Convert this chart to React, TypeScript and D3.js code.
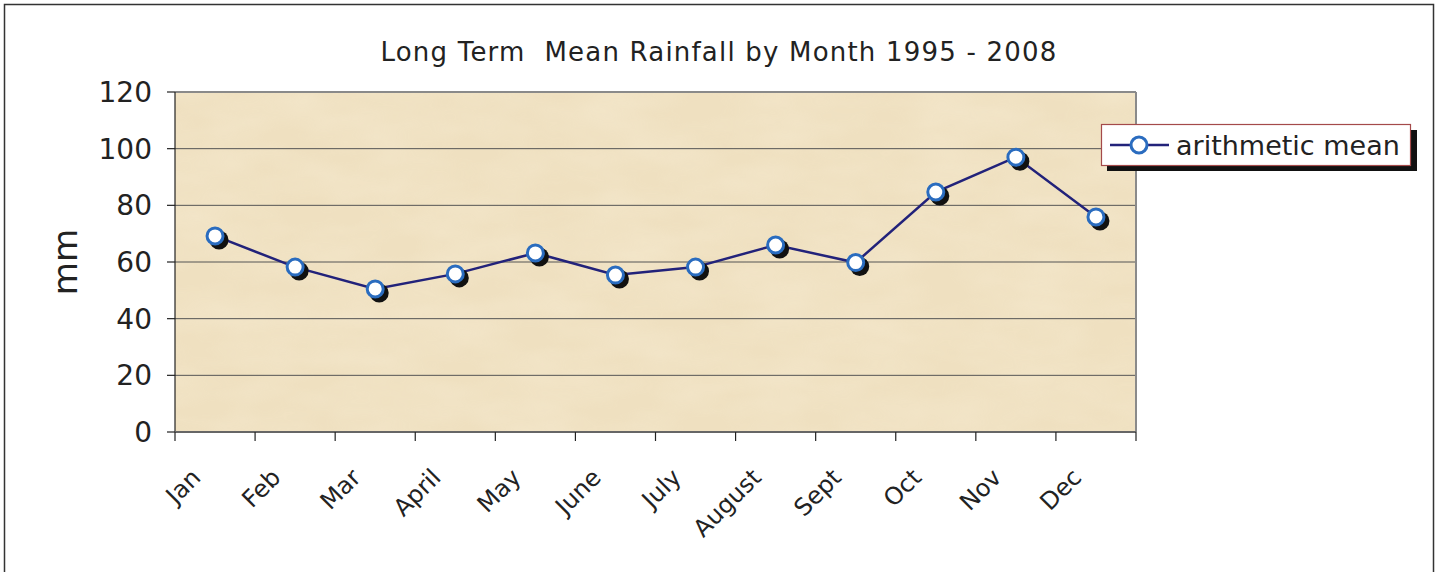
import * as d3 from "d3";
import React from "react";

const months = ["Jan", "Feb", "Mar", "April", "May", "June", "July", "August", "Sept", "Oct", "Nov", "Dec"];
const rainfall = [69.2, 58.2, 50.5, 55.8, 63.2, 55.4, 58.2, 66.0, 59.8, 84.7, 97.0, 75.9];
const yTicks = [0, 20, 40, 60, 80, 100, 120];
const title = "Long Term  Mean Rainfall by Month 1995 - 2008";
const seriesName = "arithmetic mean";
const yLabel = "mm";

const W = 1438;
const H = 572;
const plot = { left: 175, top: 92, right: 1136, bottom: 432 };
const font = "'DejaVu Sans', Verdana, sans-serif";

export default function App() {
  const x = d3.scaleBand().domain(months).range([plot.left, plot.right]);
  const y = d3.scaleLinear().domain([0, 120]).range([plot.bottom, plot.top]);
  const cx = (m: string) => (x(m) ?? 0) + x.bandwidth() / 2;

  const pts = months.map((m, i) => ({ m, v: rainfall[i] }));
  const line = d3.line<{ m: string; v: number }>().x(d => cx(d.m)).y(d => y(d.v));
  const bounds = months.map(m => x(m) ?? 0).concat([plot.right]);

  return (
    <svg width={W} height={H} style={{ position: "absolute", left: 0, top: 0, background: "#fff" }} fontFamily={font}>
      <defs>
        <filter id="paper" x="0" y="0" width="100%" height="100%">
          <feTurbulence type="fractalNoise" baseFrequency="0.012 0.03" numOctaves="3" seed="4" />
          <feColorMatrix type="matrix" values="0 0 0 0 0.95  0 0 0 0 0.87  0 0 0 0 0.70  0 0 0 0.9 -0.25" />
        </filter>
      </defs>

      {/* outer frame */}
      <rect x={4.5} y={4.5} width={1429} height={620} fill="none" stroke="#333" strokeWidth={1.5} />

      <text x={719} y={61} textAnchor="middle" fontSize={26} letterSpacing={1.2} fill="#222" style={{ whiteSpace: "pre" }}>{title}</text>

      {/* plot background */}
      <rect x={plot.left} y={plot.top} width={plot.right - plot.left} height={plot.bottom - plot.top} fill="#efe0c0" />
      <rect x={plot.left} y={plot.top} width={plot.right - plot.left} height={plot.bottom - plot.top} fill="#fff" filter="url(#paper)" opacity={0.6} />

      {/* gridlines */}
      {yTicks.filter(t => t > 0 && t < 120).map(t => (
        <line key={t} x1={plot.left} x2={plot.right} y1={y(t)} y2={y(t)} stroke="#555" strokeWidth={1} />
      ))}
      <line x1={plot.left} x2={plot.right} y1={plot.top} y2={plot.top} stroke="#8a8a8a" strokeWidth={2} />
      <line x1={plot.right} x2={plot.right} y1={plot.top} y2={plot.bottom} stroke="#8a8a8a" strokeWidth={2} />

      {/* y axis */}
      <line x1={plot.left} x2={plot.left} y1={plot.top} y2={plot.bottom} stroke="#222" strokeWidth={1.2} />
      {yTicks.map(t => (
        <g key={t}>
          <line x1={plot.left - 8} x2={plot.left} y1={y(t)} y2={y(t)} stroke="#222" strokeWidth={1.2} />
          <text x={152} y={y(t) + 10} textAnchor="end" fontSize={28} fill="#222">{t}</text>
        </g>
      ))}
      <text transform={`translate(77,${(plot.top + plot.bottom) / 2}) rotate(-90)`} textAnchor="middle" fontSize={34} fill="#222">{yLabel}</text>

      {/* x axis */}
      <line x1={plot.left} x2={plot.right} y1={plot.bottom} y2={plot.bottom} stroke="#666" strokeWidth={2} />
      {bounds.map((b, i) => (
        <line key={i} x1={b} x2={b} y1={plot.bottom} y2={plot.bottom + 9} stroke="#222" strokeWidth={1.2} />
      ))}
      {months.map(m => (
        <text key={m} transform={`translate(${cx(m) - 13},${plot.bottom + 47}) rotate(-45)`} textAnchor="end" fontSize={24} fill="#222">{m}</text>
      ))}

      {/* series */}
      <path d={line(pts) ?? ""} fill="none" stroke="#22227a" strokeWidth={2.5} />
      {pts.map(p => (
        <circle key={"s" + p.m} cx={cx(p.m) + 4} cy={y(p.v) + 4} r={9.5} fill="#111" />
      ))}
      {pts.map(p => (
        <circle key={p.m} cx={cx(p.m)} cy={y(p.v)} r={8} fill="#fff" stroke="#2a6cbf" strokeWidth={3} />
      ))}

      {/* legend */}
      <rect x={1107} y={130} width={310} height={41} fill="#111" />
      <rect x={1101.5} y={124.5} width={309} height={41} fill="#fff" stroke="#a44a4a" strokeWidth={1.2} />
      <line x1={1110} x2={1169} y1={145} y2={145} stroke="#22227a" strokeWidth={2.5} />
      <circle cx={1139} cy={145} r={8} fill="#fff" stroke="#2a6cbf" strokeWidth={3} />
      <text x={1176} y={155} fontSize={27} fill="#222">{seriesName}</text>
    </svg>
  );
}
